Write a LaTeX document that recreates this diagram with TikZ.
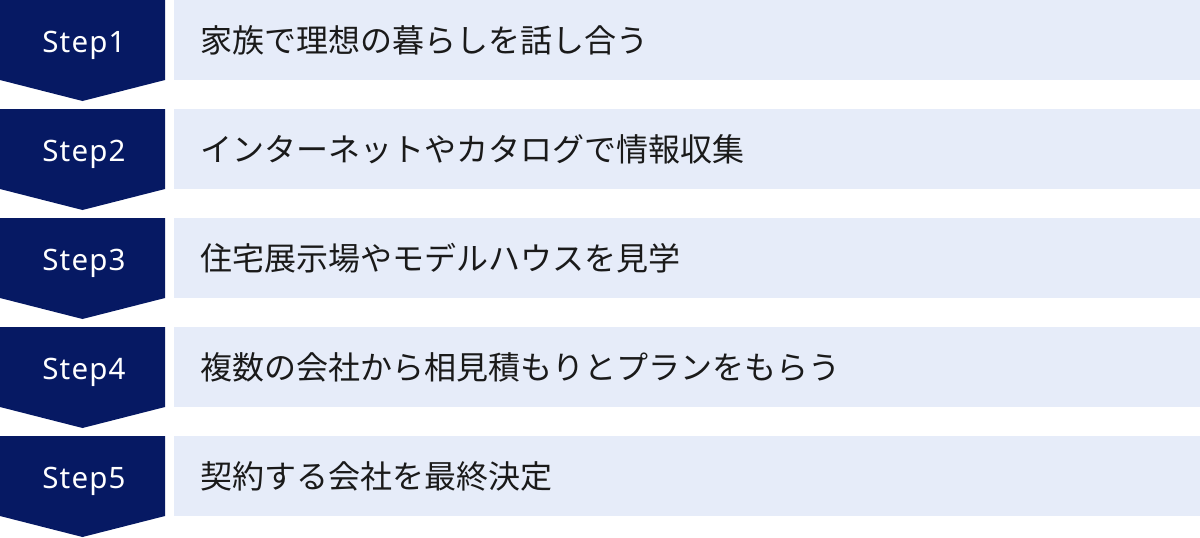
\documentclass[tikz,border=0pt]{standalone}
\usepackage{fontspec}
\newfontfamily\jpfont{Noto Sans CJK JP}
\newfontfamily\stepfont[LetterSpace=4]{Noto Sans}
\definecolor{navy}{RGB}{6,25,99}
\definecolor{pale}{RGB}{230,236,249}
\definecolor{ink}{RGB}{26,26,26}
\tikzset{
  chevron/.style={fill=navy},
  steplabel/.style={text=white, inner sep=0pt, font=\stepfont\fontsize{29.5}{34}\selectfont, anchor=base},
  bar/.style={fill=pale, draw=none, inner sep=0pt, anchor=north west, minimum width=1026pt, minimum height=80pt},
  bartext/.style={text=ink, inner sep=0pt, anchor=west, font=\jpfont\fontsize{32}{36}\selectfont}
}
\begin{document}
\begin{tikzpicture}[x=1pt,y=-1pt]
\useasboundingbox (0,0) rectangle (1200,538);
\foreach \i/\txt in {1/家族で理想の暮らしを話し合う,
                    2/インターネットやカタログで情報収集,
                    3/住宅展示場やモデルハウスを見学,
                    4/複数の会社から相見積もりとプランをもらう,
                    5/契約する会社を最終決定}{
  \pgfmathsetmacro{\t}{109*(\i-1)}
  \fill[chevron] (0,\t) -- (165,\t) -- (165,\t+80) -- (82.5,\t+101) -- (0,\t+80) -- cycle;
  \node[steplabel] (step\i) at (84,\t+52) {Step\i};
  \node[bar] (bar\i) at (174,\t) {};
  \node[bartext] (txt\i) at (200,\t+40.5) {\txt};
}
\end{tikzpicture}
\end{document}
